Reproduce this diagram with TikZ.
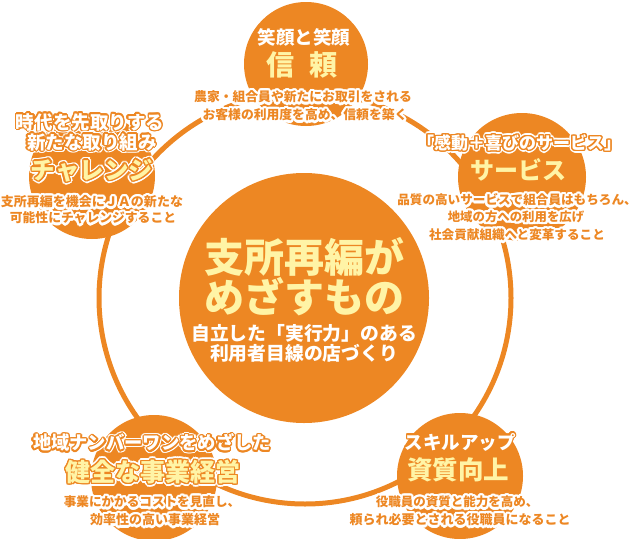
\documentclass[tikz,border=0pt]{standalone}
\usepackage{fontspec}
\newfontfamily\jp{Noto Sans CJK JP}
\usetikzlibrary{calc}
\definecolor{org}{HTML}{ED8723}
\definecolor{pyel}{HTML}{FFF4A6}
% main text line: name, x, y(center), size, colour, text
\newcommand\jt[6]{%
  \node[jtx,text=#5,font=\jp\bfseries\fontsize{#4}{#4}\selectfont] (#1) at ($(#2,#3)+(0,0.38*#4)$) {#6};}
% halo copies: name, x, y, size, halo colour, radius, text
\newcommand\jhalo[7]{%
  \foreach \a in {0,20,...,340}{%
    \node[jtx,text=#5,font=\jp\bfseries\fontsize{#4}{#4}\selectfont] (#1-\a) at ($(#2,#3)+(0,0.38*#4)+(\a:#6)$) {#7};}}
% orange description line with white halo
\newcommand\desc[5]{\jhalo{#1h}{#2}{#3}{#4}{white}{2.3}{#5}\jt{#1}{#2}{#3}{#4}{org}{#5}}
% label with orange outline and white outer glow
\newcommand\lab[6]{\jhalo{#1w}{#2}{#3}{#4}{white}{2.9}{#6}\jhalo{#1o}{#2}{#3}{#4}{org}{1.4}{#6}\jt{#1}{#2}{#3}{#4}{#5}{#6}}
\begin{document}
\begin{tikzpicture}[x=1pt,y=-1pt,
  jtx/.style={anchor=base,inner sep=0pt,outer sep=0pt},
  sat/.style={circle,fill=org,inner sep=0pt,minimum size=126pt}]
\useasboundingbox (0,0) rectangle (639,538);
% ring
\node[circle,draw=org,line width=5pt,inner sep=0pt,minimum size=412pt] (ring) at (305,298) {};
% circles
\node[circle,fill=org,inner sep=0pt,minimum size=250pt] (center) at (304,298) {};
\node[sat,minimum size=124pt] (top) at (306,64) {};
\node[sat] (left) at (92,176) {};
\node[sat,minimum size=128pt] (right) at (522,177) {};
\node[sat] (bl) at (154,478) {};
\node[sat] (br) at (460,476) {};
% top
\jt{t1}{304}{37}{18.5}{white}{笑顔と笑顔}
\jt{t2}{302}{65}{28}{pyel}{信\hspace{0.55em}頼}
\desc{t3}{303}{97}{12.8}{農家・組合員や新たにお取引をされる}
\desc{t4}{305}{115}{12.8}{お客様の利用度を高め、信頼を築く}
% left
\lab{l1}{90}{122}{18.5}{white}{時代を先取りする}
\lab{l2}{92}{142}{18.5}{white}{新たな取り組み}
\lab{l3}{92}{170}{24.5}{pyel}{チャレンジ}
\desc{l4}{92}{202}{13}{支所再編を機会にＪＡの新たな}
\desc{l5}{93}{218}{12.8}{可能性にチャレンジすること}
% right
\lab{r1}{519}{143}{17}{white}{「感動＋喜びのサービス」}
\jt{r2}{518}{170}{24}{pyel}{サービス}
\desc{r3}{517}{200}{12.6}{品質の高いサービスで組合員はもちろん、}
\desc{r4}{516}{217}{12.4}{地域の方への利用を広げ}
\desc{r5}{517}{235}{12.6}{社会貢献組織へと変革すること}
% bottom left
\lab{b1}{152}{443}{18.3}{white}{地域ナンバーワンをめざした}
\lab{b2}{153}{472}{25}{pyel}{健全な事業経営}
\desc{b3}{152}{502}{12.6}{事業にかかるコストを見直し、}
\desc{b4}{155}{520}{13}{効率性の高い事業経営}
% bottom right
\jhalo{s1o}{460}{442}{18.5}{org}{1.4}{スキルアップ}
\jt{s1}{460}{442}{18.5}{white}{スキルアップ}
\jt{s2}{458}{470}{25.5}{pyel}{資質向上}
\desc{s3}{457}{502}{12.5}{役職員の資質と能力を高め、}
\desc{s4}{460}{520}{13}{頼られ必要とされる役職員になること}
% center
\jt{c1}{304}{257}{40}{pyel}{支所再編が}
\jt{c2}{304}{297}{40}{pyel}{めざすもの}
\jt{c3}{304}{333}{18.8}{white}{自立した「実行力」のある}
\jt{c4}{304}{353}{18.8}{white}{利用者目線の店づくり}
\end{tikzpicture}
\end{document}
